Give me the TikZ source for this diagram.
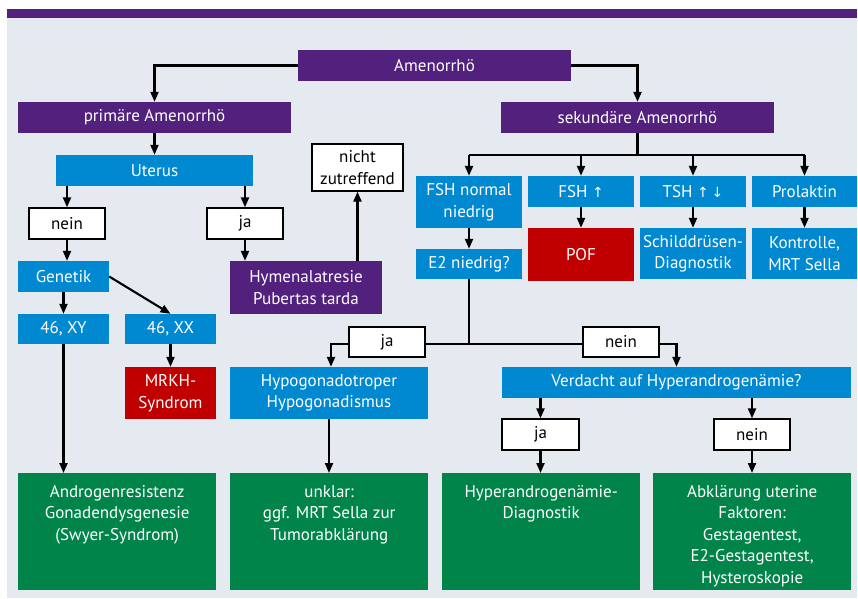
\documentclass[tikz,border=0pt]{standalone}
\usepackage{fontspec}
\setmainfont{PT Sans}
\newfontfamily\arrowfont{DejaVu Sans}
\usetikzlibrary{arrows.meta}
\definecolor{bgc}{HTML}{E5EAF0}
\definecolor{purp}{HTML}{52217E}
\definecolor{blu}{HTML}{0088D1}
\definecolor{rd}{HTML}{C00000}
\definecolor{grn}{HTML}{00844A}
\newcommand{\gtext}[1]{\parbox[c][117pt][t]{194pt}{\centering\rule{0pt}{24pt}#1}}
\newcommand{\ua}{{\arrowfont\fontsize{14}{14}\selectfont↑}}
\newcommand{\da}{{\arrowfont\fontsize{14}{14}\selectfont↓}}
\begin{document}
\begin{tikzpicture}[x=1pt,y=-1pt,
  box/.style={inner sep=0pt, text=white, align=center, font=\fontsize{17}{21.5}\selectfont},
  pbox/.style={box, fill=purp},
  bbox/.style={box, fill=blu},
  rbox/.style={box, fill=rd},
  gbox/.style={box, fill=grn, anchor=north west},
  wbox/.style={box, fill=white, draw=black, line width=1.3pt, text=black},
  conn/.style={line width=2.1pt, -{Triangle[length=10pt,width=8pt]}},
  line/.style={line width=2.1pt}]
\useasboundingbox (0,0) rectangle (858,598);
\fill[bgc] (7,9) rectangle (857,598);
\fill[purp] (7,9) rectangle (857,18);
% nodes
\node[pbox, minimum width=273, minimum height=31] (amen) at (434.5,65.5) {Amenorrhö};
\node[pbox, minimum width=273, minimum height=31] (prim) at (154.5,117.5) {primäre Amenorrhö};
\node[pbox, minimum width=273, minimum height=31] (sek) at (637.5,117.5) {sekundäre Amenorrhö};
\node[bbox, minimum width=197, minimum height=31] (uterus) at (154.5,170.5) {Uterus};
\node[wbox, minimum width=76, minimum height=31] (nein1) at (67,223.5) {nein};
\node[wbox, minimum width=76, minimum height=31] (ja1) at (245,223.5) {ja};
\node[wbox, minimum width=91, minimum height=47] (nicht) at (357.5,167.5) {nicht\\zutreffend};
\node[pbox, minimum width=152, minimum height=53] (hymen) at (306,287.5) {Hymenalatresie\\Pubertas tarda};
\node[bbox, minimum width=91, minimum height=31] (genetik) at (63.5,276.5) {Genetik};
\node[bbox, minimum width=91, minimum height=30] (xy) at (63.5,329) {46, XY};
\node[bbox, minimum width=91, minimum height=30] (xx) at (170.5,329) {46, XX};
\node[rbox, minimum width=91, minimum height=52] (mrkh) at (170.5,393) {MRKH-\\Syndrom};
\node[bbox, minimum width=198, minimum height=52] (hypo) at (329,393) {Hypogonadotroper\\Hypogonadismus};
\node[gbox, minimum width=198, minimum height=117] (andro) at (18,473) {\gtext{Androgenresistenz\\Gonadendysgenesie\\(Swyer-Syndrom)}};
\node[gbox, minimum width=198, minimum height=117] (unklar) at (230,473) {\gtext{unklar:\\ggf. MRT Sella zur\\Tumorabklärung}};
\node[bbox, minimum width=106, minimum height=52] (fshn) at (469,202) {FSH normal\\niedrig};
\node[bbox, minimum width=106, minimum height=30] (e2) at (469,264) {E2 niedrig?};
\node[bbox, minimum width=106, minimum height=31] (fshu) at (581,191.5) {FSH \ua};
\node[rbox, minimum width=106, minimum height=53] (pof) at (581,254.5) {POF};
\node[bbox, minimum width=106, minimum height=31] (tsh) at (693,191.5) {TSH \ua\,\da};
\node[bbox, minimum width=106, minimum height=51] (schild) at (693,253.5) {Schilddrüsen-\\Diagnostik};
\node[bbox, minimum width=105, minimum height=31] (prol) at (804.5,191.5) {Prolaktin};
\node[bbox, minimum width=105, minimum height=51] (kontr) at (804.5,253.5) {Kontrolle,\\MRT Sella};
\node[wbox, minimum width=76, minimum height=30] (ja2) at (387,342) {ja};
\node[wbox, minimum width=76, minimum height=30] (nein2) at (621,342) {nein};
\node[bbox, minimum width=349, minimum height=31] (verd) at (676.5,382.5) {Verdacht auf Hyperandrogenämie?};
\node[wbox, minimum width=77, minimum height=31] (ja3) at (540.5,434.5) {ja};
\node[wbox, minimum width=76, minimum height=31] (nein3) at (752,434.5) {nein};
\node[gbox, minimum width=198, minimum height=117] (hyper) at (442,473) {\gtext{Hyperandrogenämie-\\Diagnostik}};
\node[gbox, minimum width=198, minimum height=117] (abkl) at (653,473) {\gtext{Abklärung uterine\\Faktoren:\\Gestagentest,\\E2-Gestagentest,\\Hysteroskopie}};
\coordinate (br) at (637.5,155);
\coordinate (jn) at (469,344);
% connectors
\draw[conn] (amen.west) -| (prim.north);
\draw[conn] (amen.east) -| (sek.north);
\draw[conn] (prim) -- (uterus);
\draw[conn] (nein1.north |- uterus.south) -- (nein1.north);
\draw[conn] (ja1.north |- uterus.south) -- (ja1.north);
\draw[conn] (nein1.south) -- (nein1.south |- genetik.north);
\draw[conn] (ja1.south) -- (ja1.south |- hymen.north);
\draw[conn] (nicht.south |- hymen.north) -- (nicht.south);
\draw[conn] (genetik) -- (xy);
\draw[conn] (genetik.east) -- (xx.north);
\draw[conn] (xx) -- (mrkh);
\draw[conn] (xy.south) -- (xy.south |- andro.north);
\draw[conn] (hypo.south) -- (hypo.south |- unklar.north);
\draw[line] (sek.south) -- (br);
\draw[line] (fshn.north |- br) -- (prol.north |- br);
\draw[conn] (fshn.north |- br) -- (fshn.north);
\draw[conn] (fshu.north |- br) -- (fshu.north);
\draw[conn] (tsh.north |- br) -- (tsh.north);
\draw[conn] (prol.north |- br) -- (prol.north);
\draw[conn] (fshn) -- (e2);
\draw[conn] (fshu) -- (pof);
\draw[conn] (tsh) -- (schild);
\draw[conn] (prol) -- (kontr);
\draw[line] (e2.south) -- (jn);
\draw[line] (jn) -- (ja2.east |- jn);
\draw[line] (jn) -- (nein2.west |- jn);
\draw[conn] (ja2.west |- jn) -| ([xshift=2pt]hypo.north);
\draw[conn] (nein2.east |- jn) -| (verd.north);
\draw[conn] (ja3.north |- verd.south) -- (ja3.north);
\draw[conn] (nein3.north |- verd.south) -- (nein3.north);
\draw[conn] (ja3.south) -- (ja3.south |- hyper.north);
\draw[conn] (nein3.south) -- (nein3.south |- abkl.north);
\end{tikzpicture}
\end{document}
